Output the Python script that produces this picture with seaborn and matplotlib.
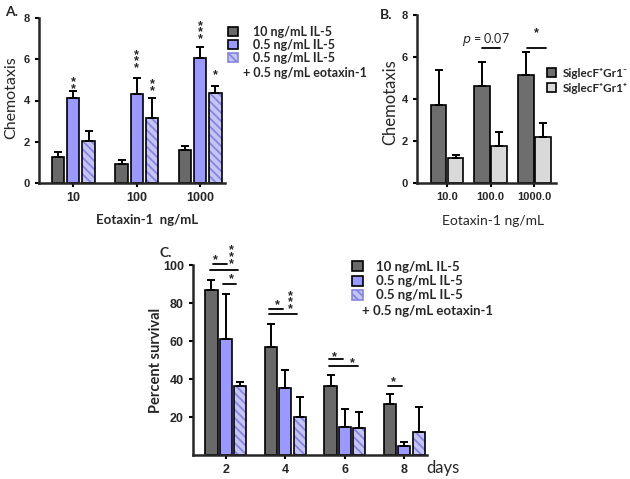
import matplotlib
matplotlib.use("Agg")
import matplotlib.pyplot as plt
from matplotlib.patches import Patch, Rectangle
import pandas as pd
import seaborn as sns

# panel A: chemotaxis vs eotaxin-1 dose
a_conc = ["10", "100", "1000"]
a_il5_10 = [1.25, 0.9, 1.6]
a_il5_10_err = [0.25, 0.22, 0.18]
a_il5_05 = [4.1, 4.3, 6.05]
a_il5_05_err = [0.35, 0.8, 0.55]
a_il5_eot = [2.05, 3.15, 4.35]
a_il5_eot_err = [0.45, 0.95, 0.35]

# panel B: SiglecF+ subsets
b_conc = ["10.0", "100.0", "1000.0"]
b_gr1_neg = [3.7, 4.6, 5.15]
b_gr1_neg_err = [1.7, 1.15, 1.1]
b_gr1_pos = [1.2, 1.75, 2.2]
b_gr1_pos_err = [0.15, 0.7, 0.65]

# panel C: survival over days
c_days = ["2", "4", "6", "8"]
c_il5_10 = [87, 57, 36.5, 27]
c_il5_10_err = [5, 12, 5.5, 5]
c_il5_05 = [61, 35.5, 15, 4.5]
c_il5_05_err = [24, 9.5, 9, 2.5]
c_il5_eot = [36.5, 20, 14, 12]
c_il5_eot_err = [2, 10.5, 8.5, 13.5]

il5_labels = ["10 ng/mL IL-5", "0.5 ng/mL IL-5", "0.5 ng/mL IL-5"]
il5_extra = "+ 0.5 ng/mL eotaxin-1"
b_labels = ["SiglecF\u207aGr1\u207b", "SiglecF\u207aGr1\u207a"]

DARK = "#696969"
BLUE = "#9999ff"
HATCH_FACE = "#c4c4f6"
HATCH_LINE = "#8585e2"
B_DARK = "#6e6e6e"
B_LIGHT = "#d9d9d9"

sns.set_style("ticks")
plt.rcParams["font.family"] = ["Liberation Sans", "DejaVu Sans"]
plt.rcParams["hatch.linewidth"] = 1.3
LABEL_FONT = ["Lato", "DejaVu Sans"]


def draw_bars(ax, cats, series, errs, colors, width, gap, hatch_idx=None):
    keys = [f"s{i}" for i in range(len(series))]
    rows = []
    for k, vals in zip(keys, series):
        for c, v in zip(cats, vals):
            rows.append({"cat": c, "grp": k, "val": v})
    df = pd.DataFrame(rows)
    sns.barplot(data=df, x="cat", y="val", hue="grp", order=cats, hue_order=keys,
                palette=dict(zip(keys, colors)), width=width, gap=gap, saturation=1,
                errorbar=None, legend=False, edgecolor="black", linewidth=1.2, ax=ax)
    bars = list(ax.patches)
    n = len(cats)
    if hatch_idx is not None:
        for p in bars[hatch_idx * n:(hatch_idx + 1) * n]:
            p.set_hatch("\\\\\\\\")
            p.set_edgecolor(HATCH_LINE)
            p.set_linewidth(0)
            ax.add_patch(Rectangle((p.get_x(), 0), p.get_width(), p.get_height(),
                                   fill=False, ec="black", lw=1.2, zorder=p.get_zorder() + 0.1))
    xs = [p.get_x() + p.get_width() / 2 for p in bars]
    tops = [p.get_height() for p in bars]
    flat = [e for es in errs for e in es]
    ax.errorbar(xs, tops, yerr=[[0] * len(xs), flat], fmt="none", ecolor="black",
                elinewidth=1.4, capsize=3, capthick=1.4, zorder=3)
    return bars


def style_axes(ax, xsize, ysize):
    sns.despine(ax=ax)
    for s in ["left", "bottom"]:
        ax.spines[s].set_linewidth(1.8)
    ax.tick_params(axis="both", width=1.5, length=3, color="black")
    ax.tick_params(axis="x", labelsize=xsize)
    ax.tick_params(axis="y", labelsize=ysize)
    for t in ax.get_xticklabels() + ax.get_yticklabels():
        t.set_fontweight("bold")


def stars(ax, x, y, n, fs=9):
    # n asterisks stacked vertically, the lowest one centred on y
    ax.annotate("\n".join(["*"] * n), xy=(x, y), xytext=(0, -0.6 * fs),
                textcoords="offset points", ha="center", va="baseline", fontsize=fs,
                fontweight="bold", linespacing=0.42, annotation_clip=False)


def bracket(ax, x0, x1, y):
    ax.plot([x0, x1], [y, y], color="black", lw=1.3, clip_on=False)


fig = plt.figure(figsize=(6.3, 4.79), dpi=100)

# ---------- A ----------
axA = fig.add_axes([39 / 630, 1 - 183 / 479, 186 / 630, 165 / 479])
barsA = draw_bars(axA, a_conc, [a_il5_10, a_il5_05, a_il5_eot],
                  [a_il5_10_err, a_il5_05_err, a_il5_eot_err],
                  [DARK, BLUE, HATCH_FACE], 0.72, 0.2, hatch_idx=2)
axA.set_ylim(0, 8)
axA.set_yticks([0, 2, 4, 6, 8])
axA.set_xlim(-0.54, 2.39)
axA.set_xlabel("Eotaxin-1  ng/mL", fontsize=9.5, fontweight="bold", family=LABEL_FONT)
axA.set_ylabel("Chemotaxis", fontsize=11.5, family=LABEL_FONT)
axA.xaxis.set_label_coords(0.58, -0.19)
axA.yaxis.set_label_coords(-0.11, 0.52)
style_axes(axA, 9, 8)
cx = lambda b: b.get_x() + b.get_width() / 2
stars(axA, cx(barsA[3]), 4.76, 2)
stars(axA, cx(barsA[4]), 5.78, 3)
stars(axA, cx(barsA[7]), 4.66, 2)
stars(axA, cx(barsA[5]), 7.18, 3)
stars(axA, cx(barsA[8]), 5.44, 1)

handlesA = [Patch(fc=DARK, ec="black", lw=1.2), Patch(fc=BLUE, ec="black", lw=1.2),
            Patch(fc=HATCH_FACE, ec=HATCH_LINE, hatch="\\\\\\\\", lw=1.2)]
fig.legend(handlesA, il5_labels, loc="upper left", bbox_to_anchor=(228 / 630, 1 - 26 / 479),
           frameon=False, borderpad=0, borderaxespad=0, handlelength=0.8, handleheight=0.8,
           handletextpad=1.2, labelspacing=0.07,
           prop=dict(family=LABEL_FONT, weight="bold", size=9))
fig.text(243 / 630, 1 - 73 / 479, il5_extra, va="center", ha="left", fontsize=9,
         fontweight="bold", family=LABEL_FONT)
fig.text(5 / 630, 1 - 12 / 479, "A.", fontsize=10, fontweight="bold", va="center",
         family=LABEL_FONT)

# ---------- B ----------
axB = fig.add_axes([417 / 630, 1 - 183 / 479, 139 / 630, 168 / 479])
barsB = draw_bars(axB, b_conc, [b_gr1_neg, b_gr1_pos], [b_gr1_neg_err, b_gr1_pos_err],
                  [B_DARK, B_LIGHT], 0.78, 0.08)
axB.set_ylim(0, 8)
axB.set_yticks([0, 2, 4, 6, 8])
axB.set_xlim(-0.69, 2.5)
axB.set_xlabel("Eotaxin-1 ng/mL", fontsize=10, family=LABEL_FONT)
axB.set_ylabel("Chemotaxis", fontsize=12, family=LABEL_FONT)
axB.xaxis.set_label_coords(0.55, -0.19)
axB.yaxis.set_label_coords(-0.135, 0.48)
style_axes(axB, 8, 8)
bracket(axB, 0.8, 1.22, 6.43)
bracket(axB, 1.84, 2.26, 6.43)
axB.text(0.89, 6.85, "$p$ = 0.07", ha="center", va="center", fontsize=9, family=LABEL_FONT)
stars(axB, 2.05, 7.35, 1)
handlesB = [Patch(fc=B_DARK, ec="black", lw=1.2), Patch(fc=B_LIGHT, ec="black", lw=1.2)]
fig.legend(handlesB, b_labels, loc="upper left", bbox_to_anchor=(547 / 630, 1 - 68 / 479),
           frameon=False, borderpad=0, borderaxespad=0, handlelength=0.8, handleheight=0.8,
           handletextpad=0.5, labelspacing=0.3,
           prop=dict(family=LABEL_FONT, weight="bold", size=8.5))
fig.text(380 / 630, 1 - 15 / 479, "B.", fontsize=10, fontweight="bold", va="center",
         family=LABEL_FONT)

# ---------- C ----------
axC = fig.add_axes([193 / 630, 1 - 455 / 479, 234 / 630, 190 / 479])
barsC = draw_bars(axC, c_days, [c_il5_10, c_il5_05, c_il5_eot],
                  [c_il5_10_err, c_il5_05_err, c_il5_eot_err],
                  [DARK, BLUE, HATCH_FACE], 0.72, 0.15, hatch_idx=2)
axC.set_ylim(0, 100)
axC.set_yticks([20, 40, 60, 80, 100])
axC.set_xlim(-0.55, 3.38)
axC.set_xlabel("")
axC.set_ylabel("Percent survival", fontsize=10.5, fontweight="bold", family=LABEL_FONT)
axC.yaxis.set_label_coords(-0.128, 0.5)
style_axes(axC, 9, 9)
axC.text(0.995, -0.068, "days", transform=axC.transAxes, ha="left", va="center",
         fontsize=12, family=LABEL_FONT)

for x0, x1, y in [(-0.22, 0.02, 100.5), (-0.27, 0.20, 97.4), (-0.05, 0.18, 90),
                  (0.72, 0.96, 76.8), (0.72, 1.19, 74.2), (1.73, 1.97, 50.5),
                  (1.73, 2.22, 46.8), (2.72, 2.96, 36.3)]:
    bracket(axC, x0, x1, y)
for x, y, n in [(-0.17, 105, 1), (0.10, 103, 3), (0.10, 94.7, 1), (0.86, 81, 1),
                (1.09, 79, 3), (1.83, 54, 1), (2.12, 50.5, 1), (2.82, 40.5, 1)]:
    stars(axC, x, y, n)

fig.legend(handlesA, il5_labels, loc="upper left", bbox_to_anchor=(352 / 630, 1 - 261 / 479),
           frameon=False, borderpad=0, borderaxespad=0, handlelength=0.8, handleheight=0.8,
           handletextpad=1.0, labelspacing=0.17,
           prop=dict(family=LABEL_FONT, weight="bold", size=9.5))
fig.text(362 / 630, 1 - 311 / 479, il5_extra, va="center", ha="left", fontsize=9.5,
         fontweight="bold", family=LABEL_FONT)
fig.text(160 / 630, 1 - 253 / 479, "C.", fontsize=10, fontweight="bold", va="center",
         family=LABEL_FONT)

fig.savefig("out.png", dpi=100)
